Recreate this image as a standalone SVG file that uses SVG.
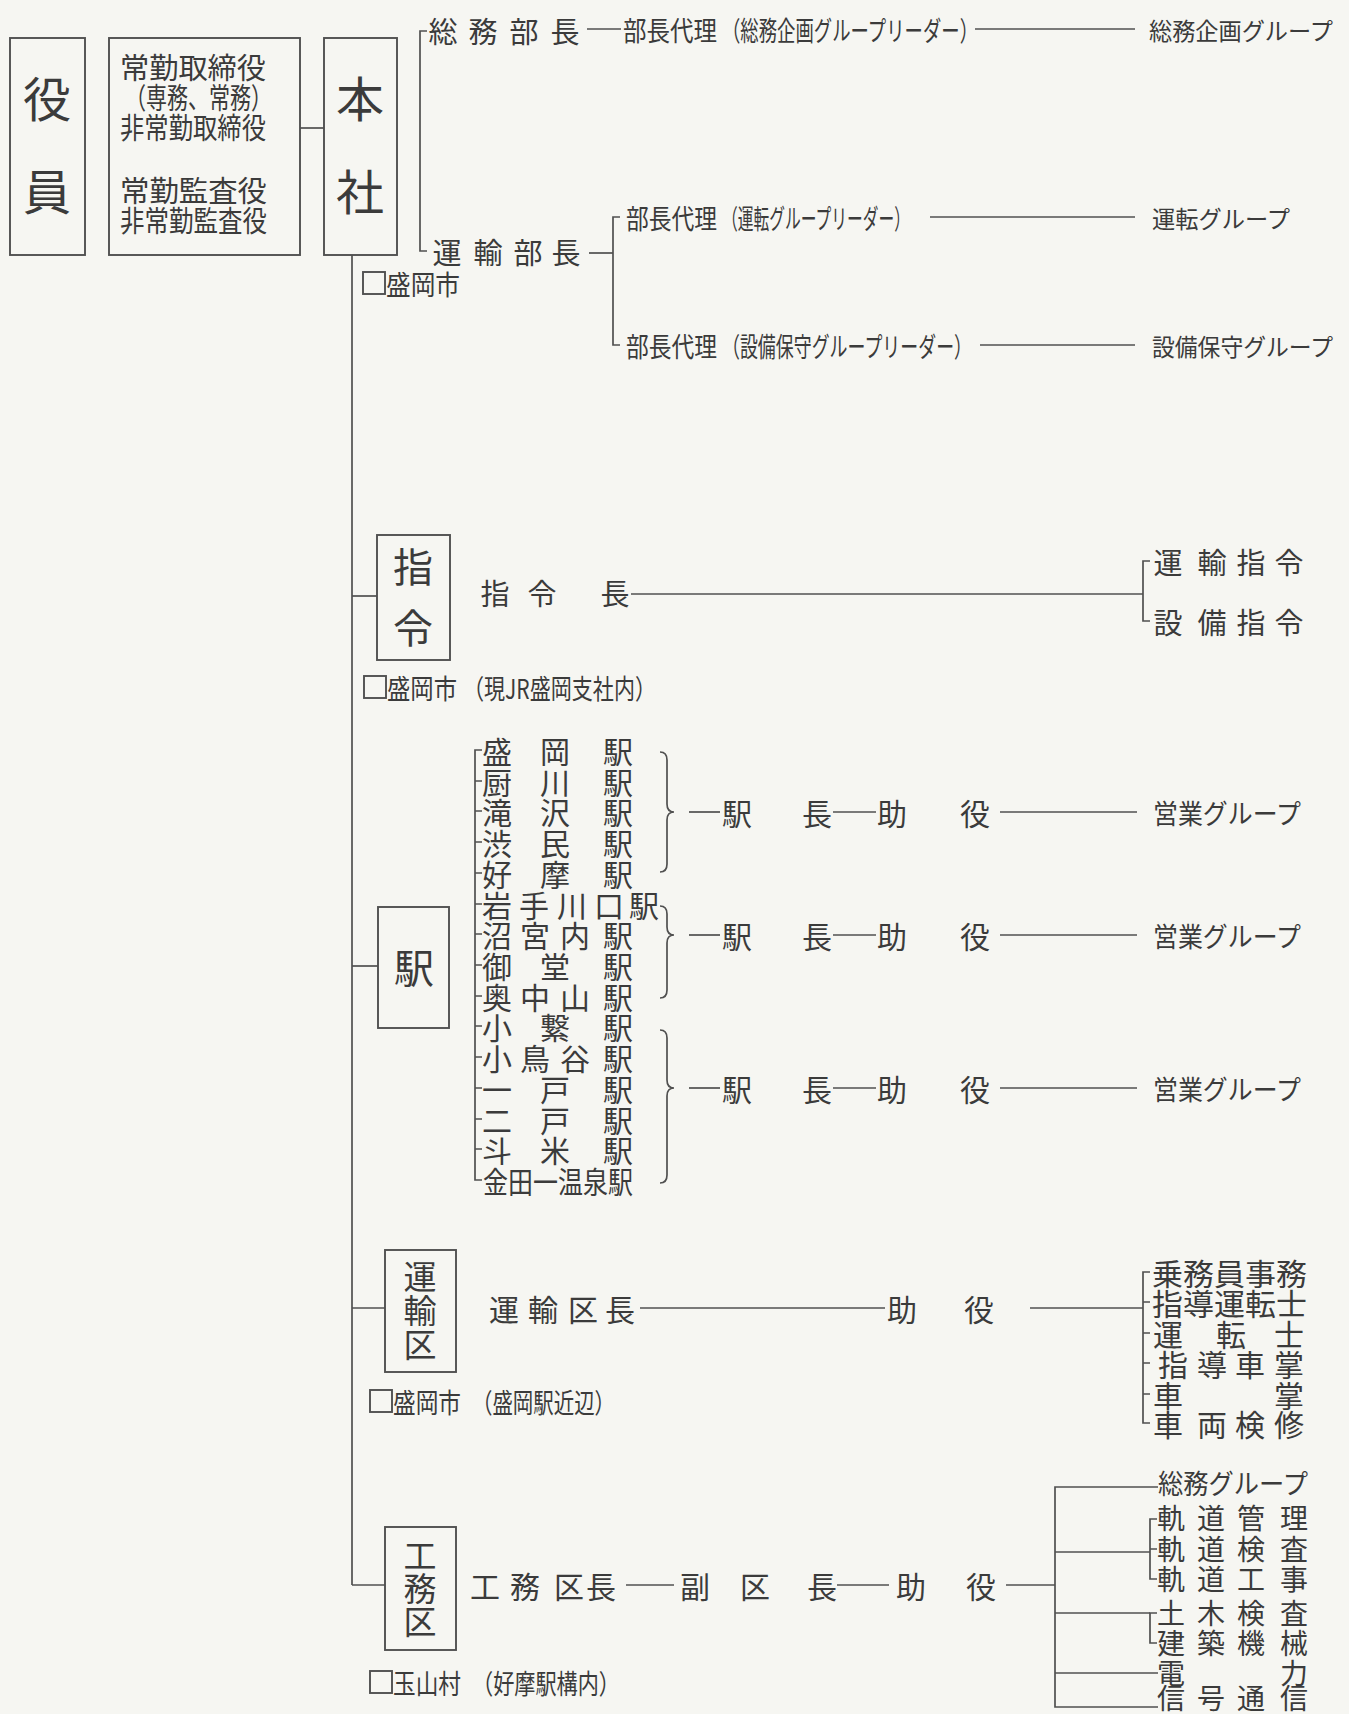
<svg xmlns="http://www.w3.org/2000/svg" width="1349" height="1714" viewBox="0 0 1349 1714">
<style>
.t{font-family:"Noto Sans CJK JP","Noto Sans CJK SC",sans-serif;fill:#3b3b3b;dominant-baseline:central;font-size:29px}
.c{text-anchor:middle}
.s{font-size:27px}
.g{font-size:24px}
.b{font-size:48px}
.m{font-size:40px}
.k{font-size:30px}
.j{font-size:28px}
.q{font-size:33px}
.ln{stroke:#505050;stroke-width:1.7;fill:none}
.bx{stroke:#505050;stroke-width:1.9;fill:none}
</style>
<rect x="0" y="0" width="1349" height="1714" fill="#f6f6f2"/>

<g id="connectors" class="ln">
  <line x1="300" y1="128" x2="324" y2="128"/>
  <path d="M427 31 H420 V251 H427"/>
  <line x1="587" y1="29" x2="621" y2="29"/>
  <line x1="975" y1="29" x2="1135" y2="29"/>
  <line x1="589" y1="253" x2="613" y2="253"/>
  <path d="M620 217 H613 V345 H620"/>
  <line x1="930" y1="217" x2="1135" y2="217"/>
  <line x1="980" y1="345" x2="1135" y2="345"/>
  <line x1="352" y1="255" x2="352" y2="1585"/>
  <line x1="352" y1="596" x2="377" y2="596"/>
  <line x1="631" y1="594" x2="1143" y2="594"/>
  <path d="M1150 561 H1143 V621 H1150"/>
  <line x1="352" y1="966" x2="378" y2="966"/>
  <path d="M482 750 H475 V1180 H482 M475 781 H482 M475 811 H482 M475 842 H482 M475 873 H482 M475 904 H482 M475 934 H482 M475 965 H482 M475 996 H482 M475 1026 H482 M475 1057 H482 M475 1088 H482 M475 1119 H482 M475 1149 H482"/>
  <path d="M660 752 Q667 752 667 760 L667 804 Q667 812 674 812 Q667 812 667 820 L667 864 Q667 872 660 872"/>
  <path d="M660 906 Q667 906 667 914 L667 927 Q667 935 674 935 Q667 935 667 943 L667 990 Q667 998 660 998"/>
  <path d="M660 1030 Q667 1030 667 1038 L667 1080 Q667 1088 674 1088 Q667 1088 667 1096 L667 1175 Q667 1183 660 1183"/>
  <line x1="689" y1="812" x2="720" y2="812"/>
  <line x1="833" y1="812" x2="876" y2="812"/>
  <line x1="1000" y1="812" x2="1137" y2="812"/>
  <line x1="689" y1="935" x2="720" y2="935"/>
  <line x1="833" y1="935" x2="876" y2="935"/>
  <line x1="1000" y1="935" x2="1137" y2="935"/>
  <line x1="689" y1="1088" x2="720" y2="1088"/>
  <line x1="833" y1="1088" x2="876" y2="1088"/>
  <line x1="1000" y1="1088" x2="1137" y2="1088"/>
  <line x1="352" y1="1308" x2="385" y2="1308"/>
  <line x1="640" y1="1308" x2="885" y2="1308"/>
  <line x1="1030" y1="1308" x2="1143" y2="1308"/>
  <path d="M1150 1272 H1143 V1423 H1150 M1143 1302 H1150 M1143 1333 H1150 M1143 1363 H1150 M1143 1394 H1150"/>
  <line x1="352" y1="1585" x2="385" y2="1585"/>
  <line x1="626" y1="1585" x2="674" y2="1585"/>
  <line x1="837" y1="1585" x2="889" y2="1585"/>
  <line x1="1006" y1="1585" x2="1055" y2="1585"/>
  <path d="M1158 1487 H1055 V1707 H1158"/>
  <line x1="1055" y1="1552" x2="1150" y2="1552"/>
  <line x1="1055" y1="1613" x2="1150" y2="1613"/>
  <line x1="1055" y1="1673" x2="1158" y2="1673"/>
  <path d="M1157 1519 H1150 V1579 H1157 M1150 1549 H1157"/>
  <path d="M1157 1613 H1150 V1643 H1157"/>
</g>

<g id="yakuin">
  <rect class="bx" x="10" y="38" width="75" height="217"/>
  <text class="t c b" x="47" y="96">役</text>
  <text class="t c b" x="47" y="189">員</text>
</g>
<g id="torishimari">
  <rect class="bx" x="109" y="38" width="191" height="217"/>
  <text class="t" x="120" y="66" textLength="146" lengthAdjust="spacingAndGlyphs">常勤取締役</text>
  <text class="t" x="125" y="96" textLength="147" lengthAdjust="spacingAndGlyphs">（専務、常務）</text>
  <text class="t" x="120" y="126" textLength="146" lengthAdjust="spacingAndGlyphs">非常勤取締役</text>
  <text class="t" x="120" y="189" textLength="147" lengthAdjust="spacingAndGlyphs">常勤監査役</text>
  <text class="t" x="120" y="219" textLength="147" lengthAdjust="spacingAndGlyphs">非常勤監査役</text>
</g>
<g id="honsha">
  <rect class="bx" x="324" y="38" width="73" height="217"/>
  <text class="t c b" x="360" y="96">本</text>
  <text class="t c b" x="360" y="189">社</text>
  <rect class="bx" x="363" y="272" width="22" height="22"/>
  <text class="t s" x="386" y="283" textLength="74" lengthAdjust="spacingAndGlyphs">盛岡市</text>
</g>
<g id="somu">
  <text class="t c" x="443 483 524 565" y="30">総務部長</text>
  <text class="t s" x="623" y="29" textLength="94" lengthAdjust="spacingAndGlyphs">部長代理</text>
  <text class="t s" x="722" y="29" textLength="256" lengthAdjust="spacingAndGlyphs">（総務企画グループリーダー）</text>
  <text class="t g" x="1149" y="29" textLength="184" lengthAdjust="spacingAndGlyphs">総務企画グループ</text>
</g>
<g id="unyu">
  <text class="t c" x="447 488 528 566" y="251">運輸部長</text>
  <text class="t s" x="626" y="217" textLength="91" lengthAdjust="spacingAndGlyphs">部長代理</text>
  <text class="t s" x="722" y="217" textLength="188" lengthAdjust="spacingAndGlyphs">（運転グループリーダー）</text>
  <text class="t g" x="1152" y="217" textLength="138" lengthAdjust="spacingAndGlyphs">運転グループ</text>
  <text class="t s" x="626" y="345" textLength="91" lengthAdjust="spacingAndGlyphs">部長代理</text>
  <text class="t s" x="722" y="345" textLength="250" lengthAdjust="spacingAndGlyphs">（設備保守グループリーダー）</text>
  <text class="t g" x="1152" y="345" textLength="181" lengthAdjust="spacingAndGlyphs">設備保守グループ</text>
</g>
<g id="shirei">
  <rect class="bx" x="377" y="535" width="73" height="125"/>
  <text class="t c m" x="413" y="565">指</text>
  <text class="t c m" x="413" y="626">令</text>
  <text class="t c" x="495 542 615" y="592">指令長</text>
  <text class="t c" x="1168 1212 1251 1289" y="561">運輸指令</text>
  <text class="t c" x="1168 1212 1251 1289" y="621">設備指令</text>
  <rect class="bx" x="364" y="676" width="22" height="22"/>
  <text class="t s" x="387" y="687" textLength="70" lengthAdjust="spacingAndGlyphs">盛岡市</text>
  <text class="t s" x="463" y="687" textLength="193" lengthAdjust="spacingAndGlyphs">（現JR盛岡支社内）</text>
</g>
<g id="eki">
  <rect class="bx" x="378" y="907" width="71" height="121"/>
  <text class="t c m" x="414" y="966">駅</text>
  <text class="t c k" x="497 555 618" y="750">盛岡駅</text>
  <text class="t c k" x="497 555 618" y="781">厨川駅</text>
  <text class="t c k" x="497 555 618" y="811">滝沢駅</text>
  <text class="t c k" x="497 555 618" y="842">渋民駅</text>
  <text class="t c k" x="497 555 618" y="873">好摩駅</text>
  <text class="t c k" x="497 534 572 609 644" y="904">岩手川口駅</text>
  <text class="t c k" x="497 535 575 618" y="934">沼宮内駅</text>
  <text class="t c k" x="497 555 618" y="965">御堂駅</text>
  <text class="t c k" x="497 535 575 618" y="996">奥中山駅</text>
  <text class="t c k" x="497 555 618" y="1026">小繋駅</text>
  <text class="t c k" x="497 535 575 618" y="1057">小鳥谷駅</text>
  <text class="t c k" x="497 555 618" y="1088">一戸駅</text>
  <text class="t c k" x="497 555 618" y="1119">二戸駅</text>
  <text class="t c k" x="497 555 618" y="1149">斗米駅</text>
  <text class="t k" x="483" y="1180" textLength="150" lengthAdjust="spacingAndGlyphs">金田一温泉駅</text>
  <text class="t c k" x="737 817 892 975" y="812">駅長助役</text>
  <text class="t s" x="1153" y="812" textLength="148" lengthAdjust="spacingAndGlyphs">営業グループ</text>
  <text class="t c k" x="737 817 892 975" y="935">駅長助役</text>
  <text class="t s" x="1153" y="935" textLength="148" lengthAdjust="spacingAndGlyphs">営業グループ</text>
  <text class="t c k" x="737 817 892 975" y="1088">駅長助役</text>
  <text class="t s" x="1153" y="1088" textLength="148" lengthAdjust="spacingAndGlyphs">営業グループ</text>
</g>
<g id="unyuku">
  <rect class="bx" x="385" y="1250" width="71" height="122"/>
  <text class="t c q" x="420" y="1275">運</text>
  <text class="t c q" x="420" y="1309">輸</text>
  <text class="t c q" x="420" y="1343">区</text>
  <text class="t c k" x="504 543 583 620" y="1308">運輸区長</text>
  <text class="t c k" x="902 979" y="1308">助役</text>
  <text class="t k" x="1152" y="1272" textLength="155" lengthAdjust="spacingAndGlyphs">乗務員事務</text>
  <text class="t k" x="1152" y="1302" textLength="155" lengthAdjust="spacingAndGlyphs">指導運転士</text>
  <text class="t c k" x="1168 1231 1289" y="1333">運転士</text>
  <text class="t c k" x="1173 1212 1250 1289" y="1363">指導車掌</text>
  <text class="t c k" x="1168 1289" y="1394">車掌</text>
  <text class="t c k" x="1168 1212 1250 1289" y="1423">車両検修</text>
  <rect class="bx" x="370" y="1390" width="22" height="22"/>
  <text class="t s" x="393" y="1401" textLength="68" lengthAdjust="spacingAndGlyphs">盛岡市</text>
  <text class="t s" x="472" y="1401" textLength="143" lengthAdjust="spacingAndGlyphs">（盛岡駅近辺）</text>
</g>
<g id="komuku">
  <rect class="bx" x="385" y="1527" width="71" height="123"/>
  <text class="t c q" x="420" y="1554">工</text>
  <text class="t c q" x="420" y="1587">務</text>
  <text class="t c q" x="420" y="1620">区</text>
  <text class="t c k" x="485 525 569 601" y="1585">工務区長</text>
  <text class="t c k" x="695 755 822" y="1585">副区長</text>
  <text class="t c k" x="911 981" y="1585">助役</text>
  <text class="t s" x="1158" y="1482" textLength="150" lengthAdjust="spacingAndGlyphs">総務グループ</text>
  <text class="t c j" x="1171 1211 1251 1294" y="1517">軌道管理</text>
  <text class="t c j" x="1171 1211 1251 1294" y="1548">軌道検査</text>
  <text class="t c j" x="1171 1211 1251 1294" y="1578">軌道工事</text>
  <text class="t c j" x="1171 1211 1251 1294" y="1612">土木検査</text>
  <text class="t c j" x="1171 1211 1251 1294" y="1642">建築機械</text>
  <text class="t c j" x="1171 1294" y="1672">電力</text>
  <text class="t c j" x="1171 1211 1251 1294" y="1697">信号通信</text>
  <rect class="bx" x="370" y="1671" width="22" height="22"/>
  <text class="t s" x="393" y="1682" textLength="68" lengthAdjust="spacingAndGlyphs">玉山村</text>
  <text class="t s" x="472" y="1682" textLength="148" lengthAdjust="spacingAndGlyphs">（好摩駅構内）</text>
</g>
</svg>
